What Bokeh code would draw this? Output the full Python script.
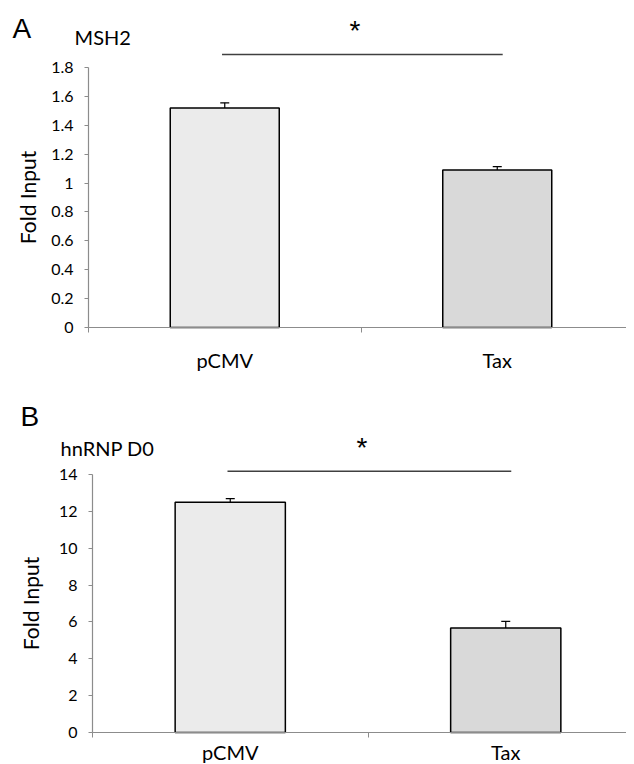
from bokeh.plotting import figure
from bokeh.models import (Range1d, FixedTicker, Label, Whisker, TeeHead,
                          ColumnDataSource)
from bokeh.layouts import column
from bokeh.embed import file_html
from bokeh.resources import INLINE

# ---------------- data ----------------
categories = ["pCMV", "Tax"]
bar_colors = ["#ebebeb", "#d9d9d9"]

msh2_values = [1.52, 1.09]
msh2_errors = [0.036, 0.024]
msh2_yticks = [0, 0.2, 0.4, 0.6, 0.8, 1.0, 1.2, 1.4, 1.6, 1.8]
msh2_ytick_labels = ["0", "0.2", "0.4", "0.6", "0.8", "1", "1.2", "1.4", "1.6", "1.8"]

hnrnp_values = [12.5, 5.67]
hnrnp_errors = [0.19, 0.36]
hnrnp_yticks = [0, 2, 4, 6, 8, 10, 12, 14]
hnrnp_ytick_labels = ["0", "2", "4", "6", "8", "10", "12", "14"]

panel_letters = ["A", "B"]
panel_titles = ["MSH2", "hnRNP D0"]
significance = ["*", "*"]

AXIS_GRAY = "#8c8c8c"
FONT = "Lato"
WIDTH = 626


def make_panel(values, errors, yticks, ytick_labels, letter, title, star,
               height, x_range, y_range, label_standoff, ylabel_standoff,
               sig_y, letter_pos, title_pos):
    x_pos = [i + 0.5 for i in range(len(categories))]
    src = ColumnDataSource(dict(
        x=x_pos, top=values, color=bar_colors,
        lower=[v - e for v, e in zip(values, errors)],
        upper=[v + e for v, e in zip(values, errors)],
    ))
    p = figure(width=WIDTH, height=height, output_backend="svg",
               toolbar_location=None, tools="",
               x_range=Range1d(*x_range), y_range=Range1d(*y_range),
               min_border_left=0, min_border_right=0,
               min_border_top=0, min_border_bottom=0)
    p.outline_line_color = None
    p.xgrid.visible = False
    p.ygrid.visible = False
    p.background_fill_color = "white"

    p.vbar(x="x", top="top", width=0.4, source=src, fill_color="color",
           line_color="black", line_width=1.5)
    p.add_layout(Whisker(base="x", lower="lower", upper="upper", source=src,
                         line_color="black", line_width=1.2,
                         upper_head=TeeHead(size=9, line_color="black", line_width=1.2),
                         lower_head=TeeHead(size=9, line_color="black", line_width=1.2)))

    # significance bracket
    p.line(x=[x_pos[0] - 0.01, x_pos[1] + 0.02], y=[sig_y, sig_y],
           line_color="#404040", line_width=1.5)
    p.add_layout(Label(x=(x_pos[0] + x_pos[1]) / 2, y=sig_y, text=star,
                       x_offset=-6, y_offset=24,
                       text_align="center", text_baseline="middle",
                       text_font="Liberation Sans", text_font_size="28px",
                       text_color="black"))

    # panel letter and title
    p.add_layout(Label(x=letter_pos[0], y=letter_pos[1], text=letter,
                       text_align="left", text_baseline="middle",
                       text_font="Liberation Sans", text_font_size="28px",
                       text_color="black"))
    p.add_layout(Label(x=title_pos[0], y=title_pos[1], text=title,
                       text_align="left", text_baseline="middle",
                       text_font=FONT, text_font_size="20px", text_color="black"))

    # x axis (drawn at y = 0)
    xa = p.xaxis[0]
    xa.fixed_location = 0
    xa.bounds = (0, x_range[1])
    xa.ticker = FixedTicker(ticks=x_pos, minor_ticks=[0, 1, 2])
    xa.major_label_overrides = {x: c for x, c in zip(x_pos, categories)}
    xa.major_tick_line_color = None
    xa.minor_tick_line_color = AXIS_GRAY
    xa.minor_tick_out = 5
    xa.minor_tick_in = 0
    xa.axis_line_color = AXIS_GRAY
    xa.axis_line_width = 1.2
    xa.major_label_text_font = FONT
    xa.major_label_text_font_size = "20px"
    xa.major_label_text_color = "black"
    xa.major_label_standoff = label_standoff

    # y axis (drawn at x = 0)
    ya = p.yaxis[0]
    ya.fixed_location = 0
    ya.ticker = FixedTicker(ticks=yticks, minor_ticks=[])
    ya.major_label_overrides = {t: s for t, s in zip(yticks, ytick_labels)}
    ya.bounds = (yticks[0], yticks[-1])
    ya.axis_line_color = AXIS_GRAY
    ya.axis_line_width = 1.2
    ya.major_tick_line_color = AXIS_GRAY
    ya.major_tick_out = 4
    ya.major_tick_in = 0
    ya.major_label_text_font = FONT
    ya.major_label_text_font_size = "16px"
    ya.major_label_text_color = "black"
    ya.major_label_standoff = 11
    ya.axis_label = "Fold Input"
    ya.axis_label_text_font = FONT
    ya.axis_label_text_font_style = "normal"
    ya.axis_label_text_font_size = "21px"
    ya.axis_label_text_color = "black"
    ya.axis_label_standoff = ylabel_standoff
    return p


# top panel: page y 0..390; y axis at x=88 (272.5 px/unit), zero line at y=327 (144.4 px/unit)
p1 = make_panel(msh2_values, msh2_errors, msh2_yticks, msh2_ytick_labels,
                panel_letters[0], panel_titles[0], significance[0],
                height=390,
                x_range=(-88 / 272.5, (WIDTH - 88) / 272.5),
                y_range=(-(390 - 327) / 144.4, 327 / 144.4),
                label_standoff=14, ylabel_standoff=8, sig_y=1.89,
                letter_pos=(-0.279, 2.071), title_pos=(-0.051, 2.015))

# bottom panel: page y 390..764; y axis at x=92 (275.5 px/unit), zero line at y=732 (18.43 px/unit)
p2 = make_panel(hnrnp_values, hnrnp_errors, hnrnp_yticks, hnrnp_ytick_labels,
                panel_letters[1], panel_titles[1], significance[1],
                height=374,
                x_range=(-92 / 275.5, (WIDTH - 92) / 275.5),
                y_range=(-(764 - 732) / 18.43, (732 - 390) / 18.43),
                label_standoff=1, ylabel_standoff=13, sig_y=14.18,
                letter_pos=(-0.261, 17.15), title_pos=(-0.116, 15.41))

layout = column(p1, p2, spacing=0)
open("out.html", "w").write(file_html(layout, INLINE))
